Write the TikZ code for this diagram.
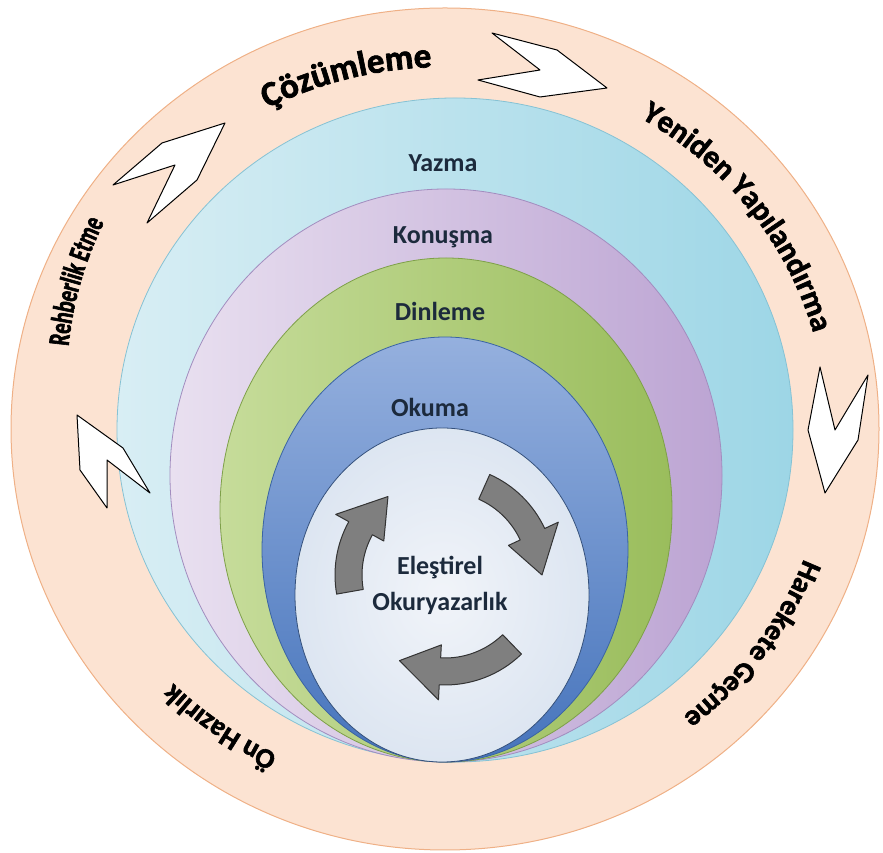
\documentclass[tikz,border=0pt]{standalone}
\usepackage{fontspec}
\setmainfont{Carlito}
\newfontfamily\ringfont[BoldFeatures={FakeBold=2}]{Carlito}
\newfontfamily\ringnarrow[FakeStretch=0.68, BoldFeatures={FakeBold=2}]{Carlito}
\usetikzlibrary{decorations.text,positioning}

% colours
\definecolor{ringIn}{HTML}{FCE3D2}
\definecolor{ringOut}{HTML}{F7C29D}
\definecolor{ringE}{HTML}{EFB086}
\definecolor{yazmaL}{HTML}{D8EEF4}
\definecolor{yazmaR}{HTML}{9DD6E6}
\definecolor{yazmaE}{HTML}{86C2D4}
\definecolor{konusmaL}{HTML}{E9E0F0}
\definecolor{konusmaR}{HTML}{BCA4D3}
\definecolor{konusmaE}{HTML}{A28DBF}
\definecolor{dinlemeL}{HTML}{C6DC9A}
\definecolor{dinlemeR}{HTML}{9ABD5C}
\definecolor{dinlemeE}{HTML}{7EA049}
\definecolor{okumaT}{HTML}{95B0DE}
\definecolor{okumaB}{HTML}{4674BC}
\definecolor{okumaE}{HTML}{3A64A3}
\definecolor{coreIn}{HTML}{F1F4F9}
\definecolor{coreMid}{HTML}{DCE5F1}
\definecolor{coreOut}{HTML}{A6BCDC}
\definecolor{coreE}{HTML}{34507C}
\definecolor{labelC}{HTML}{1C2A3C}
\definecolor{turnC}{HTML}{7F7F7F}

\pgfdeclareradialshading{ringglow}{\pgfpointorigin}{color(0bp)=(ringIn); color(37bp)=(ringIn); color(50bp)=(ringOut)}
\pgfdeclareradialshading{coreglow}{\pgfpointorigin}{color(0bp)=(coreIn); color(26bp)=(coreMid); color(50bp)=(coreOut)}

\begin{document}
\begin{tikzpicture}[x=1pt, y=1pt, node distance=74pt,
	layer/.style={draw=#1E, line width=0.8pt, left color=#1L, right color=#1R},
	tag/.style={font=\fontsize{26}{36}\selectfont\bfseries, text=labelC, align=center},
	chevron/.style={draw=black, fill=white, line width=1pt, line join=round},
	turn/.style={draw=black!80, fill=turnC, line width=1pt, line join=round},
	ringlabel/.style n args={3}{decorate, decoration={text along path, text align=center,
		text={|#1\bfseries\fontsize{#2}{#2}\selectfont|#3}}}]
	\useasboundingbox (0,0) rectangle (883,853);

	% Rings {outer, yazma, konusma, dinleme, okuma, core}
	\draw [shade, shading=ringglow, draw=ringE, line width=1pt] (445,424) ellipse [x radius=434pt, y radius=421pt];
	\draw [layer=yazma] 	(455,423)	ellipse [x radius=338pt, y radius=332pt];
	\draw [layer=konusma] 	(446,377.5)	ellipse [x radius=276pt, y radius=286.5pt];
	\draw [layer=dinleme] 	(446,343)	ellipse [x radius=226pt, y radius=252pt];
	\draw [draw=okumaE, line width=0.8pt, top color=okumaT, bottom color=okumaB] (445,303.5) ellipse [x radius=183pt, y radius=212.5pt];
	\draw [shade, shading=coreglow, draw=coreE, line width=0.8pt] (442,258) ellipse [x radius=147pt, y radius=167pt];

	% Turning arrows
	\foreach \s/\e in {190/126, 66/0, -46/-118} {
		\draw [turn, shift={(445,278)}] (\s:110pt) arc [start angle=\s, end angle=\e+25, radius=110pt]
			-- ({\e+25}:125pt) -- (\e:97pt) -- ({\e+25}:70pt) -- ({\e+25}:83pt)
			arc [start angle=\e+25, end angle=\s, radius=83pt] -- cycle;
	}

	% Nodes {yazma, konusma, dinleme, okuma, core}
	\node [tag] (yazma) 	at (443,690)	{Yazma};
	\node [tag] (konusma) 	[below of=yazma]	{Konuşma};
	\node [tag] (dinleme) 	[below of=konusma, xshift=-3pt]	{Dinleme};
	\node [tag] (okuma) 	at (430,446)	{Okuma};
	\node [tag] (core) 		at (440,268)	{Eleştirel\\Okuryazarlık};

	% Chevrons
	\draw [chevron] (113,668) -- (162,710) -- (225,730) -- (197,673) -- (147,630) -- (175,688) -- cycle;
	\draw [chevron] (492,820) -- (557,803) -- (607,765) -- (540,756) -- (478,773) -- (540,783) -- cycle;
	\draw [chevron] (820,486) -- (835,423) -- (868,478) -- (858,413) -- (825,360) -- (808,423) -- cycle;
	\draw [chevron] (77,438) -- (123,405) -- (150,360) -- (107,393) -- (107,345) -- (80,383) -- cycle;

	% Ring texts
	\path [ringlabel={\ringfont}{35}{Çözümleme}] (445,424) ++(135:382pt and 362pt)
		arc [start angle=135, end angle=75, x radius=382pt, y radius=362pt];
	\path [ringlabel={\ringfont}{31}{Yeniden Yapılandırma}] (445,424) ++(72:382pt and 362pt)
		arc [start angle=72, end angle=2, x radius=382pt, y radius=362pt];
	\path [ringlabel={\ringfont}{29}{Harekete Geçme}] (445,424) ++(-6:384pt and 366pt)
		arc [start angle=-6, end angle=-66, x radius=384pt, y radius=366pt];
	\path [ringlabel={\ringfont}{28}{Ön Hazırlık}] (445,424) ++(264:382pt and 362pt)
		arc [start angle=264, end angle=204, x radius=382pt, y radius=362pt];
	\path [ringlabel={\ringnarrow}{30}{Rehberlik Etme}] (420,473) ++(194:353pt)
		arc [start angle=194, end angle=134, radius=353pt];
\end{tikzpicture}
\end{document}
